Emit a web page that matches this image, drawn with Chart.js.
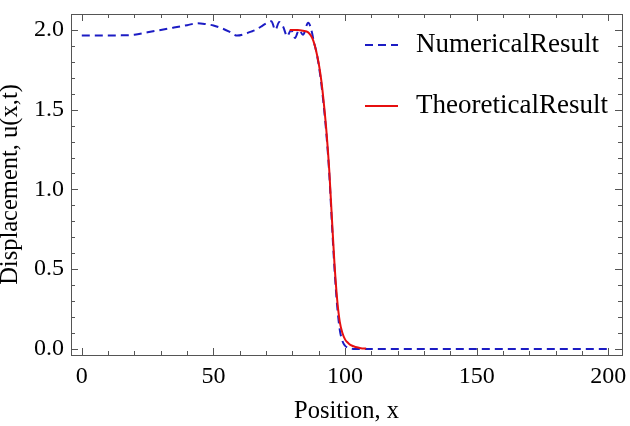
<!DOCTYPE html>
<html>
<head>
<meta charset="utf-8">
<script src="https://cdn.jsdelivr.net/npm/chart.js@4"></script>
<style>
  html, body { margin: 0; padding: 0; background: #ffffff; }
  #wrap { width: 630px; height: 426px; }
</style>
</head>
<body>
<div id="wrap"><canvas id="c" width="630" height="426"></canvas></div>
<script>
// ---------------- data ----------------
const numericalX = [0, 5, 10, 15, 20, 25, 30, 35, 40, 44, 47, 50, 53, 56, 59, 62, 64, 66, 68, 70, 72, 73.5, 75, 76.5, 78, 79.5, 81, 82.5, 84, 86, 87.5,
  88, 89, 90, 91, 92, 93, 94, 95, 96, 97, 98, 99, 100, 101, 102, 104, 110, 130, 150, 170, 190, 200];
const numericalY = [1.965, 1.965, 1.965, 1.966, 1.97, 1.985, 2.0, 2.015, 2.03, 2.042, 2.037, 2.028, 2.012, 1.99, 1.965, 1.975, 1.988, 2.0, 2.02, 2.04, 2.055, 2.0, 2.05, 2.02, 1.96, 2.0, 1.95, 2.0, 1.97, 2.045, 1.98,
  1.935, 1.87, 1.78, 1.66, 1.51, 1.33, 1.10, 0.79, 0.50, 0.27, 0.12, 0.05, 0.02, 0.008, 0.003, 0.0, 0.0, 0.0, 0.0, 0.0, 0.0, 0.0];

const theoreticalX = [79, 80, 82, 84, 86, 87, 88, 89, 90, 91, 92, 93, 94, 95, 96, 97, 98, 99, 100, 101, 102, 104, 106, 108];
const theoreticalY = [2.0, 2.0, 2.0, 1.995, 1.985, 1.965, 1.93, 1.87, 1.79, 1.68, 1.53, 1.35, 1.12, 0.82, 0.53, 0.31, 0.17, 0.10, 0.06, 0.04, 0.025, 0.012, 0.005, 0.002];

const seriesLabels = ['NumericalResult', 'TheoreticalResult'];
const xMajorTicks = [0, 50, 100, 150, 200];
const xMinorTicks = [10, 20, 30, 40, 60, 70, 80, 90, 110, 120, 130, 140, 160, 170, 180, 190];
const yMajorTicks = [0.0, 0.5, 1.0, 1.5, 2.0];
const yMinorTicks = [0.1, 0.2, 0.3, 0.4, 0.6, 0.7, 0.8, 0.9, 1.1, 1.2, 1.3, 1.4, 1.6, 1.7, 1.8, 1.9];
const xTitle = 'Position, x';
const yTitle = 'Displacement, u(x,t)';

// ---------------- styling ----------------
const SERIF = '"Liberation Serif", "Times New Roman", serif';
const BLUE = '#1c1cc4';
const RED = '#e60f0f';
const FRAME = '#555555';

const toPoints = (xs, ys) => xs.map((x, i) => ({ x: x, y: ys[i] }));

const framePlugin = {
  id: 'frameTicks',
  afterDraw(chart) {
    const ctx = chart.ctx;
    const a = chart.chartArea;
    const xs = chart.scales.x, ys = chart.scales.y;
    ctx.save();
    ctx.strokeStyle = FRAME;
    ctx.lineWidth = 1;
    ctx.strokeRect(Math.round(a.left) + 0.5, Math.round(a.top) + 0.5,
      Math.round(a.right - a.left), Math.round(a.bottom - a.top));
    const tick = (x1, y1, x2, y2) => {
      ctx.beginPath(); ctx.moveTo(x1, y1); ctx.lineTo(x2, y2); ctx.stroke();
    };
    const MAJ = 7, MIN = 4;
    xMajorTicks.concat(xMinorTicks).forEach(v => {
      const len = xMajorTicks.includes(v) ? MAJ : MIN;
      const px = Math.round(xs.getPixelForValue(v)) + 0.5;
      tick(px, a.bottom, px, a.bottom - len);
      tick(px, a.top, px, a.top + len);
    });
    yMajorTicks.concat(yMinorTicks).forEach(v => {
      const len = yMajorTicks.includes(v) ? MAJ : MIN;
      const py = Math.round(ys.getPixelForValue(v)) + 0.5;
      tick(a.left, py, a.left + len, py);
      tick(a.right, py, a.right - len, py);
    });
    ctx.restore();

    // legend
    ctx.save();
    const lx1 = 365, lx2 = 398, tx = 416;
    const rows = [45, 106];
    chart.data.datasets.forEach((ds, i) => {
      const y = rows[i];
      ctx.strokeStyle = ds.borderColor;
      ctx.lineWidth = 2;
      ctx.setLineDash(ds.borderDash || []);
      ctx.beginPath(); ctx.moveTo(lx1, y); ctx.lineTo(lx2, y); ctx.stroke();
      ctx.setLineDash([]);
      ctx.fillStyle = '#000';
      ctx.font = '27px ' + SERIF;
      ctx.textBaseline = 'middle';
      ctx.textAlign = 'left';
      ctx.fillText(ds.label, tx, y);
    });
    ctx.restore();
  }
};

new Chart(document.getElementById('c'), {
  type: 'line',
  data: {
    datasets: [
      {
        label: seriesLabels[0],
        data: toPoints(numericalX, numericalY),
        borderColor: BLUE,
        borderWidth: 2,
        borderDash: [8, 5],
        pointRadius: 0,
        fill: false,
        cubicInterpolationMode: 'monotone',
        order: 1
      },
      {
        label: seriesLabels[1],
        data: toPoints(theoreticalX, theoreticalY),
        borderColor: RED,
        borderWidth: 2,
        pointRadius: 0,
        fill: false,
        cubicInterpolationMode: 'monotone',
        order: 0
      }
    ]
  },
  options: {
    responsive: false,
    animation: false,
    devicePixelRatio: 1,
    layout: { padding: { top: 14, right: 8, left: 0, bottom: 0 } },
    plugins: { legend: { display: false }, tooltip: { enabled: false } },
    scales: {
      x: {
        type: 'linear',
        min: -4.1,
        max: 205.2,
        afterBuildTicks: (s) => { s.ticks = xMajorTicks.map(v => ({ value: v })); },
        afterFit: (s) => { s.height = 71; s.paddingLeft = 0; s.paddingRight = 0; },
        grid: { display: false, drawTicks: false },
        border: { display: false },
        ticks: {
          autoSkip: false, maxRotation: 0, padding: 7,
          color: '#000',
          font: { family: SERIF, size: 24 },
          callback: (v) => String(v)
        },
        title: {
          display: true, text: xTitle, color: '#000',
          font: { family: SERIF, size: 24.5, lineHeight: 1.2 },
          padding: { top: 0, bottom: 0 }
        }
      },
      y: {
        type: 'linear',
        min: -0.038,
        max: 2.10,
        afterBuildTicks: (s) => { s.ticks = yMajorTicks.map(v => ({ value: v })); },
        afterFit: (s) => { s.width = 71; s.paddingTop = 0; s.paddingBottom = 0; },
        grid: { display: false, drawTicks: false },
        border: { display: false },
        ticks: {
          autoSkip: false, padding: 7,
          color: '#000',
          font: { family: SERIF, size: 24 },
          callback: (v) => Number(v).toFixed(1)
        },
        title: {
          display: true, text: yTitle, color: '#000',
          font: { family: SERIF, size: 24.5, lineHeight: 0.9 },
          padding: { top: 0, bottom: 0 }
        }
      }
    }
  },
  plugins: [framePlugin]
});
</script>
</body>
</html>
